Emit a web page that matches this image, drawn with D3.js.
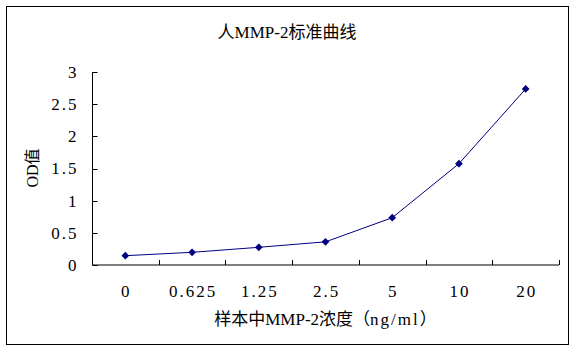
<!DOCTYPE html>
<html>
<head>
<meta charset="utf-8">
<script src="https://cdn.jsdelivr.net/npm/d3@7"></script>
<style>
  body { margin: 0; background: #fff; }
  text { font-family: "Liberation Serif", "Noto Sans CJK SC", serif; fill: #000; }
</style>
</head>
<body>
<div id="chart"></div>
<script>
// 数据
const concentrations = ["0", "0.625", "1.25", "2.5", "5", "10", "20"];
const odValues = [0.145, 0.197, 0.275, 0.36, 0.735, 1.575, 2.736];
const yTicks = [0, 0.5, 1, 1.5, 2, 2.5, 3];

const width = 576, height = 351;
const margin = { left: 92, right: 17, top: 72, bottom: 86 };

const svg = d3.select("#chart").append("svg")
    .attr("width", width)
    .attr("height", height);

// 外框
svg.append("rect")
    .attr("x", 6.5).attr("y", 6.5)
    .attr("width", 562).attr("height", 338)
    .attr("fill", "none")
    .attr("stroke", "#000")
    .attr("stroke-width", 1);

const x = d3.scaleBand()
    .domain(concentrations)
    .range([margin.left, width - margin.right]);

const y = d3.scaleLinear()
    .domain([0, 3])
    .range([height - margin.bottom, margin.top]);

// 坐标轴
const xAxis = svg.append("g")
    .attr("transform", `translate(0,${y(0)})`);
xAxis.append("line")
    .attr("x1", x.range()[0]).attr("x2", x.range()[1])
    .attr("stroke", "#000");
xAxis.selectAll(".tk")
    .data(concentrations)
    .enter().append("line")
    .attr("x1", d => Math.round(x(d) + x.bandwidth()) + 0.5)
    .attr("x2", d => Math.round(x(d) + x.bandwidth()) + 0.5)
    .attr("y1", 0).attr("y2", -5)
    .attr("stroke", "#000");
xAxis.selectAll(".lbl")
    .data(concentrations)
    .enter().append("text")
    .attr("x", d => x(d) + x.bandwidth() / 2 + 1)
    .attr("y", 32)
    .attr("text-anchor", "middle")
    .style("font-size", "17px")
    .style("letter-spacing", "2px")
    .text(d => d);

const yAxis = svg.append("g")
    .attr("transform", `translate(${margin.left + 0.5},0)`);
yAxis.append("line")
    .attr("y1", y(0)).attr("y2", y(3))
    .attr("stroke", "#000");
yAxis.selectAll(".tk")
    .data(yTicks)
    .enter().append("line")
    .attr("x1", 0).attr("x2", 5)
    .attr("y1", d => Math.round(y(d)) + 0.5)
    .attr("y2", d => Math.round(y(d)) + 0.5)
    .attr("stroke", "#000");
yAxis.selectAll(".lbl")
    .data(yTicks)
    .enter().append("text")
    .attr("x", -14)
    .attr("y", d => y(d))
    .attr("dy", "0.35em")
    .attr("text-anchor", "end")
    .style("font-size", "17px")
    .style("letter-spacing", "2px")
    .text(d => d);

// 折线
const line = d3.line()
    .x((d, i) => x(concentrations[i]) + x.bandwidth() / 2)
    .y(d => y(d));

svg.append("path")
    .datum(odValues)
    .attr("d", line)
    .attr("fill", "none")
    .attr("stroke", "#000080")
    .attr("stroke-width", 1);

svg.selectAll(".pt")
    .data(odValues)
    .enter().append("path")
    .attr("d", d3.symbol().type(d3.symbolSquare).size(30))
    .attr("transform", (d, i) => `translate(${x(concentrations[i]) + x.bandwidth() / 2},${y(d)}) rotate(45)`)
    .attr("fill", "#000080");

// 标题
svg.append("text")
    .attr("x", 287).attr("y", 38)
    .attr("text-anchor", "middle")
    .style("font-size", "17px")
    .text("人MMP-2标准曲线");

const xTitle = svg.append("text")
    .attr("x", (x.range()[0] + x.range()[1]) / 2)
    .attr("y", 325)
    .attr("text-anchor", "middle")
    .style("font-size", "17px");
xTitle.append("tspan").text("样本中MMP-2浓度（");
xTitle.append("tspan").style("letter-spacing", "2px").text("ng/ml");
xTitle.append("tspan").text("）");

svg.append("text")
    .attr("transform", "translate(38,168) rotate(-90)")
    .attr("text-anchor", "middle")
    .style("font-size", "16px")
    .text("OD值");
</script>
</body>
</html>
